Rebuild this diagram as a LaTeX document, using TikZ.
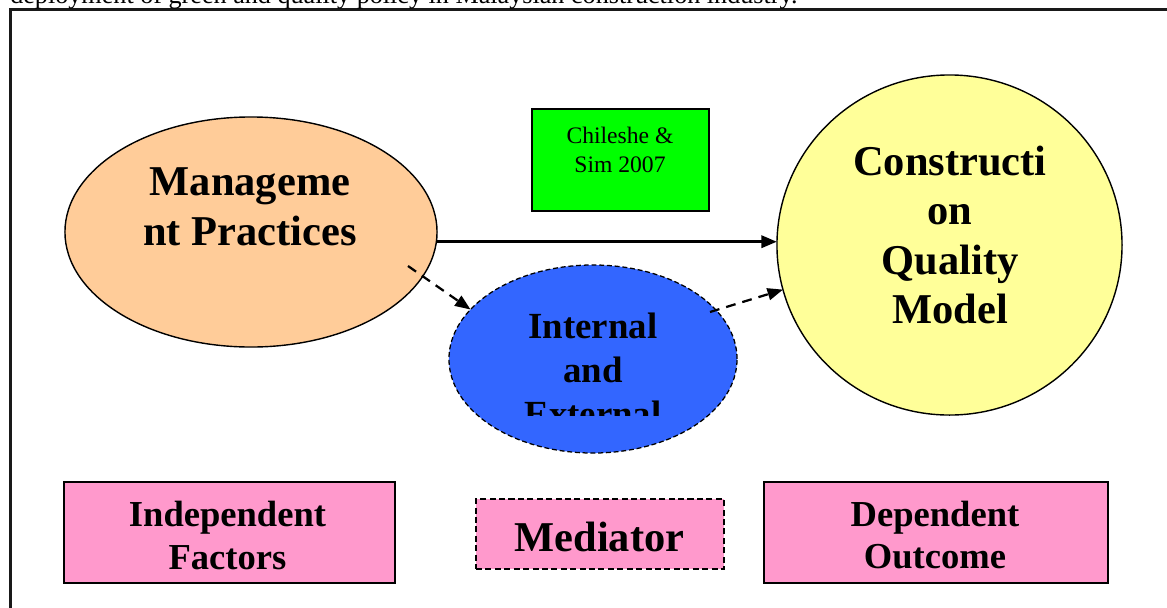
\documentclass[tikz,border=0pt]{standalone}
\usepackage{fontspec}
\setmainfont{Liberation Serif}
\usetikzlibrary{shapes.geometric,arrows.meta}

\definecolor{peach}{RGB}{255,204,153}
\definecolor{paleyellow}{RGB}{255,255,153}
\definecolor{brightblue}{RGB}{51,102,255}
\definecolor{brightgreen}{RGB}{0,255,0}
\definecolor{boxpink}{RGB}{255,153,204}

\newcommand{\bigfont}{\fontsize{30.2}{35.3}\bfseries\selectfont}
\newcommand{\midfont}{\fontsize{26.2}{31.2}\bfseries\selectfont}
\newcommand{\keyfont}{\fontsize{26}{30.2}\bfseries\selectfont}
\newcommand{\smallfont}{\fontsize{16.8}{20.6}\selectfont}
\newcommand{\topfont}{\fontsize{18.6}{22}\selectfont}

\begin{document}
\begin{tikzpicture}[x=0.025cm,y=-0.025cm,
	oval/.style={ellipse,draw,line width=1pt,outer sep=0pt,inner sep=0pt},
	keybox/.style={rectangle,draw,fill=boxpink,line width=1.5pt,outer sep=0pt,minimum height=2.525cm},
	label/.style={align=center,inner sep=0pt},
	arr/.style={-{Triangle[length=11pt,width=8.5pt]},line width=2.3pt},
	dasharr/.style={-{Triangle[length=11pt,width=8.5pt]},line width=1.6pt,dash pattern=on 7pt off 5pt}]
	\useasboundingbox (0,0) rectangle (1167,607);
	% frame and the line above it
	\draw[line width=1.7pt,black!90] (10.5,9.5) rectangle (1200,640);
	\node[anchor=base west,inner sep=0pt,font=\topfont] (caption) at (10,3) {deployment of green and quality policy in Malaysian construction industry.};
	
	% the three constructs
	\node[oval,fill=peach,minimum width=9.3cm,minimum height=5.75cm] (mgmt) at (251,232) {};
	\node[oval,fill=paleyellow,minimum width=8.625cm,minimum height=8.5cm] (quality) at (949.5,245) {};
	\node[oval,fill=brightblue,minimum width=7.2cm,minimum height=4.7cm,dash pattern=on 3.5pt off 2pt,line width=0.9pt] (internal) at (593,359) {};
	\node[label,font=\bigfont] (mgmttext) at (250,206.5) {Manageme\\nt Practices};
	\node[label,font=\bigfont] (qualitytext) at (950,235) {Constructi\\on\\Quality\\Model};
	\begin{scope}
		\clip (449,265) rectangle (737,415);
		\node[label,font=\midfont] (internaltext) at (593,370) {Internal\\and\\External};
	\end{scope}
	
	% source
	\node[rectangle,draw,fill=brightgreen,line width=1.5pt,minimum width=4.425cm,minimum height=2.55cm] (source) at (620.5,160) {};
	\node[label,font=\smallfont] (sourcetext) at (620,149.5) {Chileshe \&\\Sim 2007};
	
	% links
	\coordinate (mgmtdash) at (408,266);
	\coordinate (internaldash) at (710,312);
	\draw[arr] (mgmt.-3.4) -- (mgmt.-3.4 -| quality.west);
	\draw[dasharr] (mgmtdash) -- (internal.158);
	\draw[dasharr] (internaldash) -- (quality.195);
	
	% key
	\node[keybox,minimum width=8.275cm] (indep) at (229.5,532.5) {};
	\node[keybox,minimum width=6.2cm,minimum height=1.75cm,dash pattern=on 4.3pt off 2.4pt] (mediator) at (600,534) {};
	\node[keybox,minimum width=8.6cm] (dep) at (936,532.5) {};
	\node[label,font=\keyfont] (indeptext) at (227.5,535.5) {Independent\\Factors};
	\node[label,font=\bigfont] (mediatortext) at (599.5,536.5) {Mediator};
	\node[label,font=\keyfont] (deptext) at (935,535) {Dependent\\Outcome};
\end{tikzpicture}
\end{document}
